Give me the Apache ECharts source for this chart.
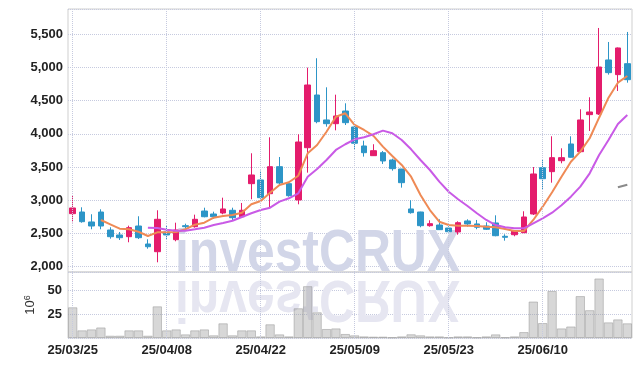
<!DOCTYPE html>
<html>
<head>
<meta charset="utf-8">
<script src="https://cdn.jsdelivr.net/npm/echarts@6.0.0/dist/echarts.min.js"></script>
<style>
html, body { margin: 0; padding: 0; background: #fff; }
#chart { width: 642px; height: 366px; }
</style>
</head>
<body>
<div id="chart"></div>
<script>
var dates = ['25/03/25','25/03/26','25/03/27','25/03/28','25/03/31','25/04/01','25/04/02','25/04/03','25/04/04','25/04/07',
  '25/04/08','25/04/09','25/04/10','25/04/11','25/04/14','25/04/15','25/04/16','25/04/17','25/04/18','25/04/21',
  '25/04/22','25/04/23','25/04/24','25/04/25','25/04/28','25/04/29','25/04/30','25/05/02','25/05/07','25/05/08',
  '25/05/09','25/05/12','25/05/13','25/05/14','25/05/15','25/05/16','25/05/19','25/05/20','25/05/21','25/05/22',
  '25/05/23','25/05/26','25/05/27','25/05/28','25/05/29','25/05/30','25/06/02','25/06/04','25/06/05','25/06/09',
  '25/06/10','25/06/11','25/06/12','25/06/13','25/06/16','25/06/17','25/06/18','25/06/19','25/06/20','25/06/23'];

var opens  = [2796,2821,2671,2821,2550,2475,2449,2610,2339,2223, 2520,2404,2615,2600,2836,2791,2806,2847,2750,3248,
              3304,3097,3504,3248,3002,3790,4584,4208,4152,4343, 4102,3816,3670,3715,3605,3469,2867,2821,2615,2625,
              2580,2520,2686,2641,2610,2656,2455,2479,2509,2791, 3489,3429,3594,3846,3730,4288,4298,5112,4891,5056];
var closes = [2882,2675,2610,2610,2449,2434,2585,2434,2298,2711, 2475,2550,2600,2711,2750,2750,2867,2735,2847,3379,
              3037,3504,3258,3067,3876,4735,4182,4152,4268,4167, 3857,3715,3745,3590,3474,3263,2811,2615,2645,2555,
              2524,2660,2641,2591,2561,2464,2440,2540,2746,3394, 3323,3640,3640,3646,4208,4328,5006,4921,5293,4815];
var lows   = [2666,2660,2561,2561,2419,2399,2365,2414,2268,2063, 2399,2380,2570,2585,2741,2720,2787,2701,2741,3013,
              3022,2886,3218,3052,2937,3414,4158,4107,4052,4132, 3771,3655,3665,3545,3444,3188,2796,2591,2600,2550,
              2515,2479,2600,2561,2550,2455,2389,2455,2505,2776, 3157,3263,3555,3640,3715,4042,4283,4891,4645,4770];
var highs  = [3073,2892,2787,2862,2591,2520,2615,2757,2410,2847, 2615,2660,2645,2781,2886,2826,3037,2886,2957,3706,
              3444,3947,3650,3258,3992,4996,5138,4700,4589,4459, 4158,3896,3842,3740,3625,3470,2998,2825,2696,2711,
              2606,2681,2711,2701,2666,2771,2485,2545,2832,3499, 3615,3962,3781,3962,4369,4550,5594,5383,5300,5534];

var ma5 = ['-','-','-',2701,2636,2570,2561,2524,2460,2515, 2515,2520,2561,2630,2660,2735,2761,2776,2811,2937,
           2987,3112,3228,3269,3368,3706,3831,4031,4257,4309, 4132,4057,3967,3806,3665,3530,3353,3078,2851,2675,
           2625,2615,2615,2610,2600,2591,2565,2535,2535,2701, 2901,3118,3353,3579,3730,3932,4242,4544,4770,4871];
var ma10 = ['-','-','-','-','-','-','-','-',2585,2580, 2555,2540,2540,2561,2585,2625,2656,2690,2746,2802,
            2851,2886,2977,3028,3103,3353,3469,3605,3756,3842, 3917,3947,3992,4047,4007,3906,3766,3605,3454,3278,
            3127,3013,2912,2802,2701,2625,2591,2576,2576,2651, 2726,2811,2922,3052,3203,3404,3680,3906,4147,4283];
var ma60 = ['-','-','-','-','-','-','-','-','-','-', '-','-','-','-','-','-','-','-','-','-',
            '-','-','-','-','-','-','-','-','-','-', '-','-','-','-','-','-','-','-','-','-',
            '-','-','-','-','-','-','-','-','-','-', '-','-','-','-','-','-','-','-',3194,3233];

// volume, in 10^6
var volumes = [32,8,9,11,2.4,2.4,8,8,2.4,33, 8,9,3.8,8,9,2.8,15.3,2.8,8,8,
               1.7,14.3,3.8,1.7,31,54,26.8,9.4,10,4.2, 2.8,1.7,1.4,1.4,0.7,1.7,3.9,2.8,1.7,1.7,
               0.7,1.7,1.7,0.7,1.7,3.8,0.7,1.7,6.2,38, 15.6,49,10,12,43.7,29,62,16.3,19.4,15.3];

var gridDates = ['25/03/25','25/04/08','25/04/22','25/05/09','25/05/23','25/06/10'];

var candles = [];
for (var i = 0; i < dates.length; i++) {
  candles.push([opens[i], closes[i], lows[i], highs[i]]);
}

var FONT = '"Liberation Sans", Arial, sans-serif';
var dotColor = '#c6cadf';
var vLines = {
  silent: true,
  symbol: ['none', 'none'],
  label: { show: false },
  lineStyle: { type: 'dotted', color: dotColor, width: 1 },
  animation: false,
  data: gridDates.map(function (d) { return { xAxis: d }; })
};

var chart = echarts.init(document.getElementById('chart'));
var option = {
  animation: false,
  backgroundColor: '#fff',
  grid: [
    { left: 68, right: 10, top: 9, height: 263, show: true, borderColor: '#cfcfcf', borderWidth: 1 },
    { left: 68, right: 10, top: 272, height: 66, show: true, borderColor: '#cfcfcf', borderWidth: 1 }
  ],
  xAxis: [
    { type: 'category', gridIndex: 0, data: dates, boundaryGap: true,
      axisLine: { show: false }, axisTick: { show: false }, axisLabel: { show: false }, splitLine: { show: false } },
    { type: 'category', gridIndex: 1, data: dates, boundaryGap: true,
      axisLine: { show: false }, axisTick: { show: false }, splitLine: { show: false },
      axisLabel: { interval: 9, margin: 6, color: '#222', fontFamily: FONT, fontWeight: 'bold', fontSize: 13 } }
  ],
  yAxis: [
    { type: 'value', gridIndex: 0, min: 1917, max: 5880, splitNumber: 8, minInterval: 500, maxInterval: 500,
      axisLine: { show: false }, axisTick: { show: false },
      splitLine: { lineStyle: { type: 'dotted', color: dotColor } },
      axisLabel: { showMinLabel: false, showMaxLabel: false, margin: 5, color: '#222', fontFamily: FONT, fontWeight: 'bold', fontSize: 13,
        formatter: function (v) { return v.toLocaleString('en-US'); } } },
    { type: 'value', gridIndex: 1, min: 0, max: 68.75, interval: 25,
      axisLine: { show: false }, axisTick: { show: false },
      splitLine: { lineStyle: { type: 'dotted', color: dotColor } },
      axisLabel: { showMinLabel: false, showMaxLabel: false, margin: 6, color: '#222', fontFamily: FONT, fontWeight: 'bold', fontSize: 13 },
      name: '{a|10}{b|6}', nameLocation: 'middle', nameRotate: 90, nameGap: 24,
      nameTextStyle: { rich: {
        a: { fontFamily: FONT, fontSize: 13, color: '#333' },
        b: { fontFamily: FONT, fontSize: 9, color: '#333', verticalAlign: 'top', padding: [0, 0, 6, 0] }
      } } }
  ],
  graphic: [
    { type: 'text', x: 175, y: 254.5, scaleX: 0.83, z: 1, silent: true,
      style: { text: 'investCRUX', font: 'bold 60px "Liberation Sans", sans-serif', fill: '#d2d6e8', verticalAlign: 'middle' } },
    { type: 'text', x: 175, y: 297.5, scaleX: 0.83, scaleY: -1, z: 1, silent: true,
      style: { text: 'investCRUX', font: 'bold 60px "Liberation Sans", sans-serif', fill: '#e6e6f1', verticalAlign: 'middle' } }
  ],
  series: [
    { name: 'price', type: 'candlestick', xAxisIndex: 0, yAxisIndex: 0, data: candles, barWidth: 6, z: 3,
      itemStyle: { color: '#e41c6c', color0: '#2d95c7', borderColor: '#e41c6c', borderColor0: '#2d95c7', borderWidth: 1 },
      markLine: vLines },
    { name: 'MA5', type: 'line', xAxisIndex: 0, yAxisIndex: 0, data: ma5, symbol: 'none', z: 4,
      lineStyle: { color: '#ef8a55', width: 2 } },
    { name: 'MA10', type: 'line', xAxisIndex: 0, yAxisIndex: 0, data: ma10, symbol: 'none', z: 4,
      lineStyle: { color: '#c95ae6', width: 2 } },
    { name: 'MA60', type: 'line', xAxisIndex: 0, yAxisIndex: 0, data: ma60, symbol: 'none', z: 4,
      lineStyle: { color: '#8a8a8a', width: 2 } },
    { name: 'volume', type: 'bar', xAxisIndex: 1, yAxisIndex: 1, data: volumes, barCategoryGap: '0%', z: 3,
      itemStyle: { color: 'rgba(150,150,150,0.38)', borderColor: 'rgba(150,150,150,0.5)', borderWidth: 1 },
      markLine: vLines }
  ]
};
chart.setOption(option);
</script>
</body>
</html>
